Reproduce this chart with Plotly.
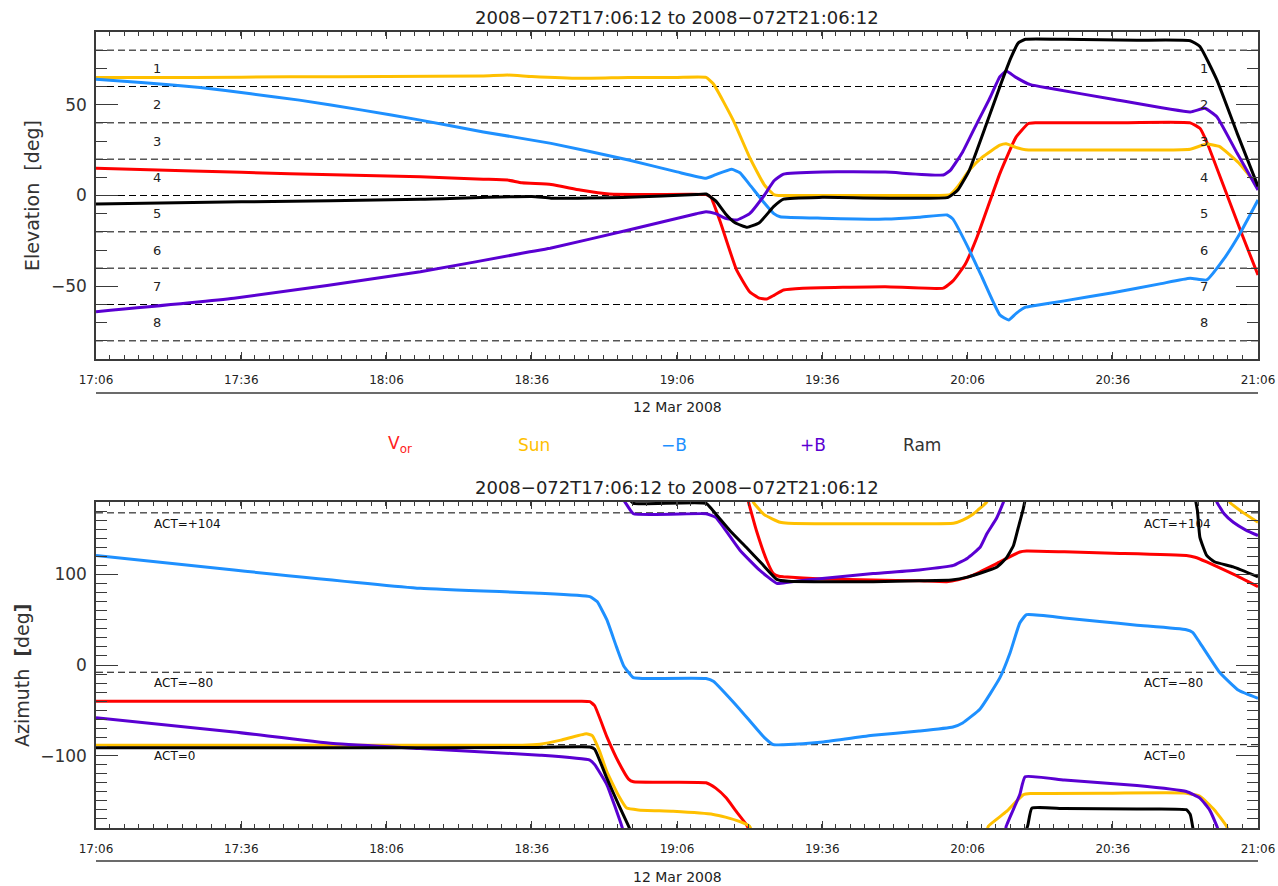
import pandas as pd
import plotly.graph_objects as go

BASE = pd.Timestamp("2008-03-12 17:06:12")
T_END = pd.Timestamp("2008-03-12 21:06:12")

# ---------------- Elevation panel (minutes after 17:06:12, degrees) ----------------
el_vor_t = [0, 20, 40, 67, 80, 85, 88, 94, 100, 106, 115, 126, 127, 129, 132.3, 135, 137, 138.5, 140, 142,
            146, 163, 175, 177, 179.5, 182, 186.7, 190, 192.5, 194, 210, 226, 228, 229.4, 233, 236.6, 240]
el_vor_v = [15, 13.5, 12, 10.3, 9, 8.5, 7, 6, 3, 0.8, 0.5, 0.5, -1, -15, -41, -53, -56.5, -57, -55, -52,
            -51, -50.2, -51, -47, -38, -22.7, 12.2, 32, 39.5, 40, 40, 40, 37, 29.6, 4.5, -20.8, -43.8]

el_sun_t = [0, 20, 40, 60, 80, 85, 90, 100, 110, 120, 126, 127.5, 131.6, 135, 138, 140, 141, 150, 160,
            170, 176.4, 178, 180.4, 183, 186.7, 188, 190, 192, 200, 210, 220, 226, 229.4, 232, 236, 240]
el_sun_v = [65, 65, 65.3, 65.5, 65.8, 66.3, 65.5, 64.5, 65, 65, 65, 61.5, 41.5, 21, 6, 0.5, 0, 0, 0,
            0, 0.5, 5, 14, 21, 27.7, 28.5, 26.5, 25.2, 25, 25, 25, 25.5, 28.3, 27, 18, 5]

el_mb_t = [0, 10, 21.5, 32, 42, 55, 67, 80, 94, 110, 120, 126, 128, 131.3, 133, 135, 138, 140, 141.3,
           150, 163, 170, 175.8, 177, 180, 183, 186.7, 188.5, 190, 192, 193, 200, 210, 220, 226, 229.4,
           232.8, 236.3, 240]
el_mb_v = [64, 62, 59.5, 56, 52.5, 47, 41.5, 35, 28.7, 19.5, 13, 9.5, 11.5, 14.4, 12.5, 6, -4, -10, -11.7,
           -12.5, -13, -12, -10.7, -13, -28, -45, -65.8, -68.5, -65, -61.5, -61, -58, -53.5, -48.5, -45.6,
           -46.5, -35.5, -20.8, -2.5]

el_pb_t = [0, 28.5, 67, 89.6, 93.8, 110, 124, 126, 128, 130, 132.3, 135, 138, 140, 142, 150, 163, 175,
           176.5, 179, 182, 184.5, 186.7, 188, 190, 193, 197, 210, 226, 229, 231.5, 235.7, 240]
el_pb_v = [-64, -56.6, -42, -31, -29, -19, -10, -8.9, -10, -12.5, -13.5, -10, 0, 8, 11.8, 13, 12.9, 11.3,
           14, 24, 40, 53, 65.4, 68.5, 65, 61, 59, 53, 46, 48, 43.4, 23.2, 3]

el_ram_t = [0, 30, 67, 90, 94, 110, 124, 126, 128, 130, 132, 134.5, 137, 140, 142, 150, 176, 178, 180.4,
            184, 186.7, 189, 190.5, 192, 200, 215, 226, 228, 231.5, 235.7, 240]
el_ram_v = [-4.7, -3.5, -2.1, -0.5, -1.5, -1, 0.5, 0.8, -3, -10, -15, -17.5, -15, -6, -2, -1, -1, 3, 14,
            40, 60, 76, 84, 86, 86, 85.5, 85.2, 82, 63.6, 34.2, 5]

# ---------------- Azimuth panel (None splits the track where it wraps at +/-180) ----------------
az_vor_t = [0, 50, 100, 102, 103, 105.5, 108, 110, 111, 126, 128, 130.2, 132, 134.3, 135, None,
            134.6, 136.4, 138.5, 139.9, 141, 142, 150, 160.5, 170, 175.7, 178, 181.2, 186, 190.8, 192.2,
            200, 210, 225.2, 227, 229.4, 235, 240]
az_vor_v = [-40, -40, -40, -40.5, -45, -79, -108, -126, -129, -130, -136, -147, -160, -176, -183, None,
            183, 148.5, 116, 101, 98, 97.4, 95, 93.8, 93, 92, 94, 99.3, 112, 124.8, 125.9,
            125, 123.5, 121, 119, 113.8, 100, 86.5]

az_sun_t = [0, 50, 88, 91.7, 96, 101.3, 102.5, 104, 105.5, 108, 109.6, 112, 119.2, 127.5, 130, 133, 135,
            135.5, None,
            135.5, 135.8, 138, 141.3, 143, 150, 160.5, 170, 177.1, 179, 181.2, 183.9, 184.5, None,
            184, 184.3, 188, 191.5, 193, 210, 225.2, 228, 231, 233.5, 234, None,
            233.9, 234.2, 237, 240]
az_sun_v = [-88.6, -88.6, -88.6, -87.5, -83, -75.9, -78, -95, -117.8, -145, -158, -160, -161.6, -165, -168,
            -173, -178, -185, None,
            185, 179.5, 166, 157.6, 156.5, 156, 155.9, 156, 156.5, 160, 166.8, 179.5, 185, None,
            -185, -178, -162, -143.4, -142, -141.5, -141.5, -145, -160, -178, -185, None,
            185, 179.5, 168, 157.6]

az_mb_t = [0, 28.5, 67, 91.7, 102, 103.5, 105.5, 107.5, 109, 111, 113, 126, 127.5, 132.9, 138, 139.9, 142,
           150.2, 160.5, 170, 177, 179, 182.6, 186.7, 188.8, 190.8, 192.2, 200, 207.3, 215, 225.2, 226.5,
           228, 232.1, 236, 240]
az_mb_v = [121, 104.8, 84.7, 79.3, 75.5, 70, 50, 20, -1, -14, -15, -15, -18, -48.5, -80, -88, -88,
           -85, -77.7, -73, -68.5, -64, -48.5, -14, 13.5, 46.4, 55.5, 52, 48, 44, 39, 36,
           24.5, -8.3, -28, -36.8]

az_pb_t = [0, 28.5, 49, 67, 80, 91.7, 102, 103, 105.5, 108.6, 109, None,
           108.6, 109.5, 111, 126, 128, 133, 137, 140.6, 143, 146.8, 160.5, 170, 177.1, 180, 182.6, 184,
           186, 187.4, 187.8, None,
           187.8, 188, 190.8, 191.9, 200, 215, 225.2, 228, 230, 231.5, 232, None,
           231.4, 231.5, 233, 234.9, 237.5, 240]
az_pb_v = [-58.3, -74, -86.8, -92.3, -96, -99.6, -105, -110, -132, -178, -185, None,
           185, 178, 167, 167, 163, 126.7, 105, 90.2, 91.5, 93.8, 101, 105, 110, 118, 130, 145,
           162, 179.5, 185, None,
           -185, -178, -143, -123.3, -127, -133, -139.7, -147, -160, -178, -185, None,
           185, 180, 167, 157.6, 149, 143]

az_ram_t = [0, 50, 90, 102, 103, 105.5, 108, 110, 110.5, None,
            110, 111, 126, 128, 131, 134.3, 137.5, 140.6, 143, 150, 160.5, 170, 176.7, 180, 186, 188,
            189.5, 190.5, 191.5, 192, None,
            192, 192.5, 193.3, 200, 215, 225.2, 226, 226.7, None,
            227, 227.5, 228, 229.4, 231, 234.9, 240]
az_ram_v = [-91.5, -91.5, -91, -90.5, -93, -125, -155, -178, -184, None,
            184, 178.5, 178.5, 166.8, 148, 130, 112, 94.6, 92.5, 92, 92, 93, 93.8, 97, 108, 118,
            132, 152, 172, 185, None,
            -185, -176, -158, -158.5, -159, -159.8, -165, -185, None,
            185, 170, 141, 121, 114, 108.4, 97.4]

series_names = ["V<sub>or</sub>", "Sun", "\u2212B", "+B", "Ram"]
series_colors = ["#ff0000", "#ffc000", "#1e90ff", "#5a00d2", "#000000"]
legend_colors = ["#ff2020", "#ffc000", "#1e90ff", "#5a00d2", "#333333"]

elev_lines = [-80, -60, -40, -20, 0, 20, 40, 60, 80]
zone_labels = ["1", "2", "3", "4", "5", "6", "7", "8"]
zone_label_el = [70, 50, 30, 10, -10, -30, -50, -70]

act_lines = [168, -8, -88]
act_labels = ["ACT=+104", "ACT=\u221280", "ACT=0"]
act_label_az = [156, -20, -100]

title_text = "2008\u2212072T17:06:12 to 2008\u2212072T21:06:12"
date_text = "12 Mar 2008"


def to_time(mins):
    return [None if m is None else BASE + pd.Timedelta(minutes=m) for m in mins]


W, H = 1278, 886
X0, X1 = 96, 1258
TOP_Y0, TOP_Y1 = 32, 359
BOT_Y0, BOT_Y1 = 502, 828


def px(x):
    return x / W


def py(y):
    return 1 - y / H


fig = go.Figure()

elev = [(el_vor_t, el_vor_v), (el_sun_t, el_sun_v), (el_mb_t, el_mb_v), (el_pb_t, el_pb_v), (el_ram_t, el_ram_v)]
azim = [(az_vor_t, az_vor_v), (az_sun_t, az_sun_v), (az_mb_t, az_mb_v), (az_pb_t, az_pb_v), (az_ram_t, az_ram_v)]

line_kw = dict(width=3, shape="spline", smoothing=0.4)
for (t, v), name, col in zip(elev, series_names, series_colors):
    fig.add_trace(go.Scatter(x=to_time(t), y=v, mode="lines", name=name,
                             line=dict(color=col, **line_kw), xaxis="x", yaxis="y",
                             showlegend=False, connectgaps=False))
for (t, v), name, col in zip(azim, series_names, series_colors):
    fig.add_trace(go.Scatter(x=to_time(t), y=v, mode="lines", name=name,
                             line=dict(color=col, **line_kw), xaxis="x2", yaxis="y2",
                             showlegend=False, connectgaps=False))

axis_line = "#3a3a3a"
xcommon = dict(type="date", range=[BASE, T_END], tick0=BASE, dtick=1800000, tickformat="%H:%M",
               ticks="inside", ticklen=7, tickwidth=1.2, tickcolor=axis_line,
               minor=dict(dtick=180000, ticks="inside", ticklen=4, tickwidth=1.2, tickcolor=axis_line),
               showline=True, linecolor=axis_line, linewidth=1.5, mirror="allticks",
               showgrid=False, zeroline=False, automargin=False, ticklabelstandoff=9,
               tickfont=dict(family="DejaVu Sans", size=12, color="#222"))

ycommon = dict(ticks="inside", ticklen=22, tickwidth=1.2, tickcolor=axis_line,
               minor=dict(dtick=10, tick0=0, ticks="inside", ticklen=11, tickwidth=1.2, tickcolor=axis_line),
               showline=True, linecolor=axis_line, linewidth=1.5, mirror="allticks",
               showgrid=False, zeroline=False, automargin=False, ticklabelstandoff=4,
               tickfont=dict(family="DejaVu Sans", size=17, color="#333"))

fig.update_layout(
    width=W, height=H, margin=dict(l=0, r=0, t=0, b=0, autoexpand=False),
    paper_bgcolor="white", plot_bgcolor="white",
    xaxis=dict(domain=[px(X0), px(X1)], anchor="y", **xcommon),
    xaxis2=dict(domain=[px(X0), px(X1)], anchor="y2", **xcommon),
    yaxis=dict(domain=[py(TOP_Y1), py(TOP_Y0)], anchor="x", range=[-90, 90], tickvals=[-50, 0, 50], **ycommon),
    yaxis2=dict(domain=[py(BOT_Y1), py(BOT_Y0)], anchor="x2", range=[-180, 180], tickvals=[-100, 0, 100], **ycommon),
)

shapes = []
for e in elev_lines:
    shapes.append(dict(type="line", xref="x domain", yref="y", x0=0, x1=1, y0=e, y1=e, layer="below",
                       line=dict(color="black", width=1, dash="7px,4px")))
for a in act_lines:
    shapes.append(dict(type="line", xref="x2 domain", yref="y2", x0=0, x1=1, y0=a, y1=a, layer="below",
                       line=dict(color="black", width=1, dash="7px,4px")))
# rules under the time tick labels
for yy in (393, 861):
    shapes.append(dict(type="line", xref="paper", yref="paper", x0=px(X0), x1=px(X1), y0=py(yy), y1=py(yy),
                       line=dict(color=axis_line, width=1.5)))
fig.update_layout(shapes=shapes)

ann = []
font_txt = "DejaVu Sans"
for yy in (17, 487):
    ann.append(dict(text=title_text, xref="paper", yref="paper", x=px(677), y=py(yy),
                    showarrow=False, xanchor="center", yanchor="middle",
                    font=dict(family=font_txt, size=18, color="#222")))
for yy in (407, 877):
    ann.append(dict(text=date_text, xref="paper", yref="paper", x=px(677), y=py(yy),
                    showarrow=False, xanchor="center", yanchor="middle",
                    font=dict(family=font_txt, size=14, color="#222")))
for lab, e in zip(zone_labels, zone_label_el):
    for xx in (157, 1204):
        ann.append(dict(text=lab, xref="paper", yref="y", x=px(xx), y=e, showarrow=False,
                        xanchor="center", yanchor="middle",
                        font=dict(family=font_txt, size=13, color="#222")))
for lab, a in zip(act_labels, act_label_az):
    for xx in (152, 1142):
        ann.append(dict(text=lab, xref="paper", yref="y2", x=px(xx), y=a, showarrow=False,
                        xanchor="left", yanchor="middle",
                        font=dict(family=font_txt, size=12, color="#111")))
ann.append(dict(text="Elevation  [deg]", xref="paper", yref="paper", x=px(32), y=py(196), textangle=-90,
                showarrow=False, xanchor="center", yanchor="middle",
                font=dict(family=font_txt, size=19, color="#333")))
ann.append(dict(text="Azimuth  <b>[</b>deg<b>]</b>", xref="paper", yref="paper", x=px(22), y=py(675),
                textangle=-90, showarrow=False, xanchor="center", yanchor="middle",
                font=dict(family=font_txt, size=19, color="#333")))
legend_x = [400, 534, 674, 813, 922]
for name, col, xx in zip(series_names, legend_colors, legend_x):
    ann.append(dict(text=name, xref="paper", yref="paper", x=px(xx), y=py(445), showarrow=False,
                    xanchor="center", yanchor="middle",
                    font=dict(family=font_txt, size=17, color=col)))
fig.update_layout(annotations=ann)

fig.write_html("out.html")
